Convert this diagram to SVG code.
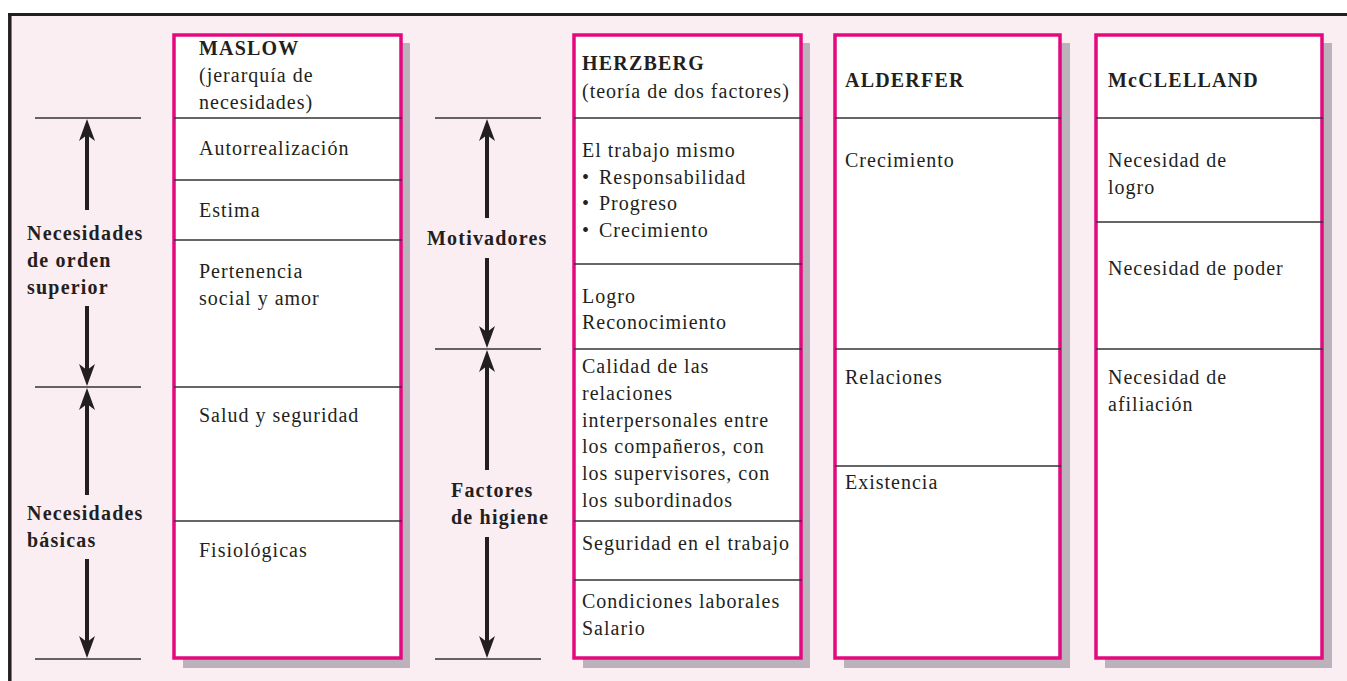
<svg xmlns="http://www.w3.org/2000/svg" width="1347" height="681" viewBox="0 0 1347 681">
<style>
.t{font-family:"Liberation Serif",serif;font-size:20px;fill:#231f20;letter-spacing:1px}
.b{font-family:"Liberation Serif",serif;font-size:20px;font-weight:bold;fill:#231f20;letter-spacing:1.2px}
.box{fill:#ffffff;stroke:#e5097f;stroke-width:3.5}
.sh{fill:#bcb2bc}
.div{stroke:#333333;stroke-width:1.6}
.tick{stroke:#333333;stroke-width:1.6}
.shaft{stroke:#231f20;stroke-width:4}
.head{fill:#231f20}
</style>
<defs>
<path id="up" d="M0,0 L8,22 L0,16 L-8,22 Z" class="head"/>
<path id="dn" d="M0,0 L8,-22 L0,-16 L-8,-22 Z" class="head"/>
</defs>
<rect x="0" y="0" width="1347" height="681" fill="#ffffff"/>
<rect x="10" y="15" width="1337" height="666" fill="#fbeef3"/>
<line x1="8" y1="14.5" x2="1347" y2="14.5" stroke="#231f20" stroke-width="3"/>
<line x1="9.8" y1="13" x2="9.8" y2="681" stroke="#231f20" stroke-width="3.5"/>

<g id="connectors">
<line class="tick" x1="35" y1="118" x2="141" y2="118"/>
<line class="tick" x1="35" y1="387" x2="141" y2="387"/>
<line class="tick" x1="35" y1="659" x2="141" y2="659"/>
<line class="shaft" x1="87" y1="130" x2="87" y2="210"/>
<use href="#up" x="87" y="119"/>
<line class="shaft" x1="87" y1="306" x2="87" y2="375"/>
<use href="#dn" x="87" y="386"/>
<line class="shaft" x1="87" y1="400" x2="87" y2="495"/>
<use href="#up" x="87" y="388"/>
<line class="shaft" x1="87" y1="559" x2="87" y2="646"/>
<use href="#dn" x="87" y="658"/>

<line class="tick" x1="435" y1="118" x2="541" y2="118"/>
<line class="tick" x1="435" y1="349" x2="541" y2="349"/>
<line class="tick" x1="435" y1="659" x2="541" y2="659"/>
<line class="shaft" x1="487" y1="130" x2="487" y2="218"/>
<use href="#up" x="487" y="119"/>
<line class="shaft" x1="487" y1="258" x2="487" y2="337"/>
<use href="#dn" x="487" y="348"/>
<line class="shaft" x1="487" y1="362" x2="487" y2="470"/>
<use href="#up" x="487" y="350"/>
<line class="shaft" x1="487" y1="537" x2="487" y2="646"/>
<use href="#dn" x="487" y="658"/>
</g>

<g id="label-superior">
<text class="b" x="27" y="240">Necesidades</text>
<text class="b" x="27" y="267">de orden</text>
<text class="b" x="27" y="294">superior</text>
</g>
<g id="label-basicas">
<text class="b" x="27" y="520">Necesidades</text>
<text class="b" x="27" y="547">básicas</text>
</g>
<g id="label-motivadores">
<text class="b" x="427" y="245">Motivadores</text>
</g>
<g id="label-higiene">
<text class="b" x="451" y="497">Factores</text>
<text class="b" x="451" y="524">de higiene</text>
</g>

<g id="maslow">
<rect class="sh" x="183" y="43" width="227" height="625"/>
<rect class="box" x="174" y="35" width="227" height="623"/>
<line class="div" x1="174" y1="118" x2="402" y2="118"/>
<line class="div" x1="174" y1="180" x2="402" y2="180"/>
<line class="div" x1="174" y1="240" x2="402" y2="240"/>
<line class="div" x1="174" y1="387" x2="402" y2="387"/>
<line class="div" x1="174" y1="521" x2="402" y2="521"/>
<text class="b" x="199" y="55">MASLOW</text>
<text class="t" x="199" y="82">(jerarquía de</text>
<text class="t" x="199" y="109">necesidades)</text>
<text class="t" x="199" y="155">Autorrealización</text>
<text class="t" x="199" y="217">Estima</text>
<text class="t" x="199" y="278">Pertenencia</text>
<text class="t" x="199" y="305">social y amor</text>
<text class="t" x="199" y="422">Salud y seguridad</text>
<text class="t" x="199" y="557">Fisiológicas</text>
</g>

<g id="herzberg">
<rect class="sh" x="583" y="43" width="227" height="625"/>
<rect class="box" x="574" y="35" width="227" height="623"/>
<line class="div" x1="574" y1="118" x2="802" y2="118"/>
<line class="div" x1="574" y1="264" x2="802" y2="264"/>
<line class="div" x1="574" y1="349" x2="802" y2="349"/>
<line class="div" x1="574" y1="521" x2="802" y2="521"/>
<line class="div" x1="574" y1="580" x2="802" y2="580"/>
<text class="b" x="582" y="70">HERZBERG</text>
<text class="t" x="582" y="98">(teoría de dos factores)</text>
<text class="t" x="582" y="157">El trabajo mismo</text>
<text class="t" x="582" y="184">•</text><text class="t" x="599" y="184">Responsabilidad</text>
<text class="t" x="582" y="210">•</text><text class="t" x="599" y="210">Progreso</text>
<text class="t" x="582" y="237">•</text><text class="t" x="599" y="237">Crecimiento</text>
<text class="t" x="582" y="303">Logro</text>
<text class="t" x="582" y="329">Reconocimiento</text>
<text class="t" x="582" y="373">Calidad de las</text>
<text class="t" x="582" y="400">relaciones</text>
<text class="t" x="582" y="427">interpersonales entre</text>
<text class="t" x="582" y="453">los compañeros, con</text>
<text class="t" x="582" y="480">los supervisores, con</text>
<text class="t" x="582" y="507">los subordinados</text>
<text class="t" x="582" y="550">Seguridad en el trabajo</text>
<text class="t" x="582" y="608">Condiciones laborales</text>
<text class="t" x="582" y="635">Salario</text>
</g>

<g id="alderfer">
<rect class="sh" x="844" y="43" width="226" height="625"/>
<rect class="box" x="835" y="35" width="225" height="623"/>
<line class="div" x1="835" y1="118" x2="1061" y2="118"/>
<line class="div" x1="835" y1="349" x2="1061" y2="349"/>
<line class="div" x1="835" y1="466" x2="1061" y2="466"/>
<text class="b" x="845" y="87">ALDERFER</text>
<text class="t" x="845" y="167">Crecimiento</text>
<text class="t" x="845" y="384">Relaciones</text>
<text class="t" x="845" y="489">Existencia</text>
</g>

<g id="mcclelland">
<rect class="sh" x="1105" y="43" width="227" height="625"/>
<rect class="box" x="1096" y="35" width="226" height="623"/>
<line class="div" x1="1096" y1="118" x2="1323" y2="118"/>
<line class="div" x1="1096" y1="222" x2="1323" y2="222"/>
<line class="div" x1="1096" y1="349" x2="1323" y2="349"/>
<text class="b" x="1108" y="87">McCLELLAND</text>
<text class="t" x="1108" y="167">Necesidad de</text>
<text class="t" x="1108" y="194">logro</text>
<text class="t" x="1108" y="275">Necesidad de poder</text>
<text class="t" x="1108" y="384">Necesidad de</text>
<text class="t" x="1108" y="411">afiliación</text>
</g>
</svg>
